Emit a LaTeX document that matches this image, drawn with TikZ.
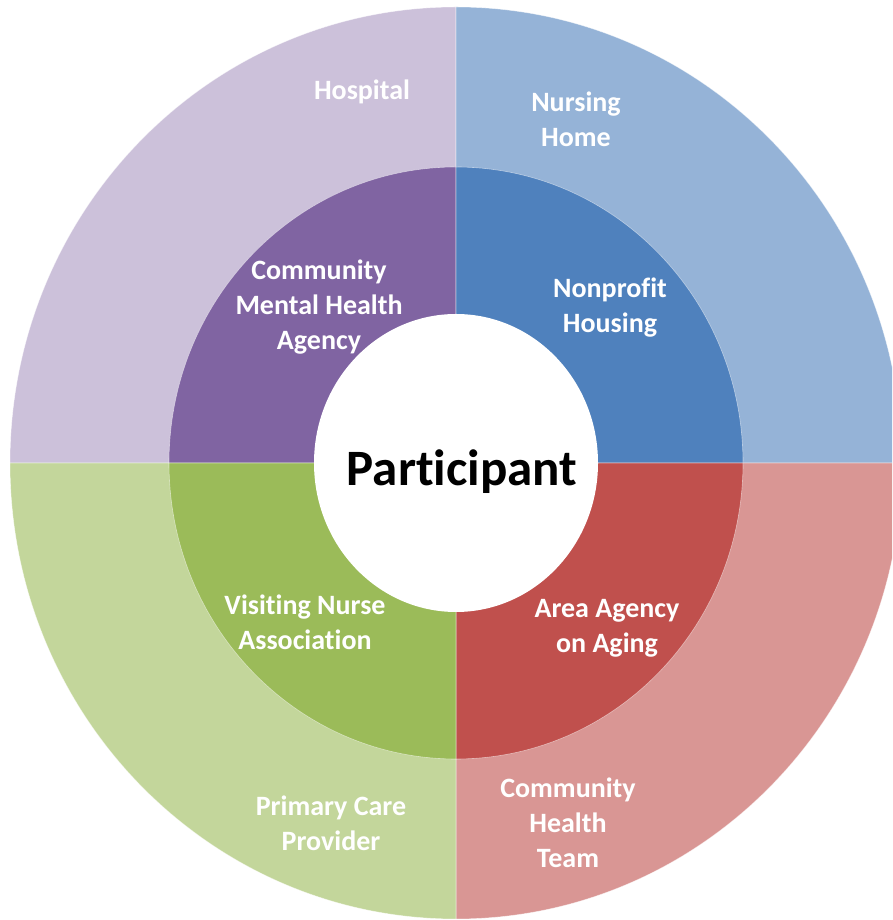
\documentclass[tikz,border=0pt]{standalone}
\usepackage{fontspec}
\setmainfont{Carlito}[Ligatures=NoCommon]
\usetikzlibrary{positioning}

\definecolor{hospitalc}{HTML}{CCC1DA}
\definecolor{nursingc}{HTML}{95B3D7}
\definecolor{teamc}{HTML}{D99694}
\definecolor{primaryc}{HTML}{C3D69B}
\definecolor{mentalc}{HTML}{8064A2}
\definecolor{housingc}{HTML}{4F81BD}
\definecolor{agingc}{HTML}{C0504D}
\definecolor{visitingc}{HTML}{9BBB59}

\begin{document}
\begin{tikzpicture}[
    x=1pt, y=1pt,
    sector/.style={draw=white, draw opacity=0.5, line width=0.6pt},
    label/.style={text=white, align=center, inner sep=0pt,
                  font=\fontsize{28}{35}\selectfont\bfseries},
    centre/.style={text=black, inner sep=0pt,
                   font=\fontsize{51}{56}\selectfont\bfseries}]

\useasboundingbox (0,0) rectangle (892,920);
\clip (0,0) rectangle (892,920);
\coordinate (ctr) at (456,457);

% outer ring
\foreach \a/\c in {90/hospitalc, 0/nursingc, 270/teamc, 180/primaryc}
    \fill[\c, sector] (ctr) -- ++(\a:446 and 456)
        arc[start angle=\a, end angle=\a+90, x radius=446, y radius=456] -- cycle;

% inner ring
\foreach \a/\c in {90/mentalc, 0/housingc, 270/agingc, 180/visitingc}
    \fill[\c, sector] (ctr) -- ++(\a:287 and 296)
        arc[start angle=\a, end angle=\a+90, x radius=287, y radius=296] -- cycle;

\fill[white] (ctr) ellipse[x radius=142, y radius=149];

\node[centre] (participant) at (462,448) {Participant};

\node[label] (hospital) at (362,828) {Hospital};
\node[label] (nursing)  at (576,801) {Nursing\\Home};
\node[label] (team)     at (568,97)  {Community\\Health\\Team};
\node[label] (primary)  at (331,97)  {Primary Care\\Provider};

\node[label] (mental)   at (319,613) {Community\\Mental Health\\Agency};
\node[label] (housing)  at (610,612) {Nonprofit\\Housing};
\node[label] (aging)    at (607,292) {Area Agency\\on Aging};
\node[label] (visiting) at (305,298) {Visiting Nurse\\Association};

\end{tikzpicture}
\end{document}
